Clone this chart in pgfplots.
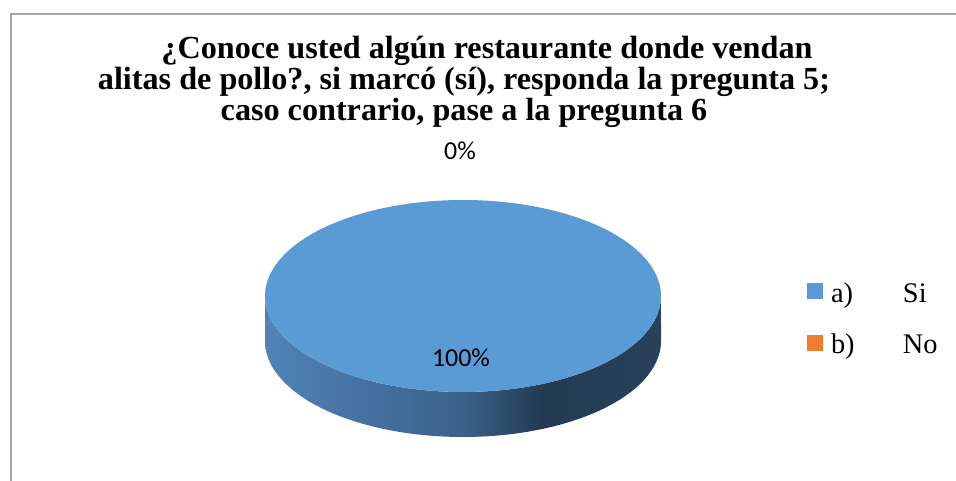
\documentclass[border=0pt]{standalone}
\usepackage{fontspec}
\setmainfont{Liberation Serif}
\newfontfamily\calib{Carlito}
\usepackage{pgfplots}
\usepackage{pgfplotstable}
\pgfplotsset{compat=1.18}
\definecolor{siblue}{RGB}{91,155,213}
\definecolor{noorange}{RGB}{237,125,49}
\definecolor{sA}{RGB}{80,131,184}
\definecolor{sB}{RGB}{58,97,138}
\definecolor{sC}{RGB}{35,58,82}
\definecolor{sD}{RGB}{40,66,92}
\definecolor{framegray}{RGB}{166,166,166}
\pgfdeclarehorizontalshading{sideshade}{100bp}{color(0bp)=(sA); color(25bp)=(sA); color(50bp)=(sB); color(60bp)=(sC); color(75bp)=(sD); color(100bp)=(sD)}
\pgfplotstableread{
cat value
Si 100
No 0
}\piedata
\begin{document}
\begin{tikzpicture}
\pgfplotstablegetelem{0}{value}\of\piedata\let\vSi\pgfplotsretval
\pgfplotstablegetelem{1}{value}\of\piedata\let\vNo\pgfplotsretval
\pgfmathsetmacro\fracSi{\vSi/(\vSi+\vNo)}
\pgfmathsetmacro\angSi{360*\fracSi}
\useasboundingbox (0,0) rectangle (956bp,481bp);
\begin{axis}[at={(0,0)}, anchor=south west, width=956bp, height=481bp,
  scale only axis, xmin=0, xmax=956, ymin=0, ymax=481, hide axis,
  legend style={at={(axis cs:807,162)}, anchor=west, draw=none, fill=none,
    font=\fontsize{28.5}{33}\selectfont, row sep=30bp, column sep=8bp,
    inner sep=0pt, outer sep=0pt, nodes={inner sep=0pt}},
  legend cell align=left,
  legend image code/.code={\fill[#1] (0bp,-6bp) rectangle (16bp,10bp);}]
% frame
\draw[framegray, line width=2bp] (axis cs:10.5,-5) -- (axis cs:10.5,467);
\draw[framegray, line width=1.2bp] (axis cs:9.5,467) -- (axis cs:970,467);
% side of the 3D pie
\addplot[draw=none, shading=sideshade, variable=\t, domain=0:2, samples=401, forget plot]
  ({463+198*cos(\t<1 ? 180+180*\t : 540-180*\t)},
   {185+96*sin(\t<1 ? 180+180*\t : 540-180*\t) - (\t<1 ? 0 : 45)}) -- cycle;
% top face: slice Si
\addplot[fill=siblue, draw=none, variable=\t, domain=0:\angSi, samples=361]
  ({463+198*cos(90-\t)}, {185+96*sin(90-\t)}) -- cycle;
\addlegendentry{\makebox[72bp][l]{a)}Si}
\addlegendimage{fill=noorange, draw=none}
\addlegendentry{\makebox[72bp][l]{b)}No}
% data labels
\node[font=\calib\fontsize{26}{31}\selectfont, anchor=base] at (axis cs:460,321) {\vNo\%};
\node[font=\calib\fontsize{26}{31}\selectfont, anchor=base] at (axis cs:461,114) {\vSi\%};
% title
\node[font=\bfseries\fontsize{32.3}{36}\selectfont, anchor=base] at (axis cs:487,422) {¿Conoce usted algún restaurante donde vendan};
\node[font=\bfseries\fontsize{32.3}{36}\selectfont, anchor=base] at (axis cs:464,391) {alitas de pollo?, si marcó (sí), responda la pregunta 5;};
\node[font=\bfseries\fontsize{32.3}{36}\selectfont, anchor=base] at (axis cs:464,360) {caso contrario, pase a la pregunta 6};
\end{axis}
\end{tikzpicture}
\end{document}
